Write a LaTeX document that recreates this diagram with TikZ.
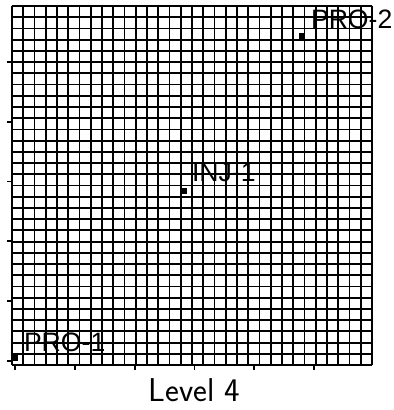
\documentclass[tikz,border=0pt]{standalone}
\usepackage{fontspec}
\usepackage{tikz}
\usetikzlibrary{positioning}
\newfontfamily\wellfont{Liberation Sans}

\begin{document}
\begin{tikzpicture}[x=0.5pt,y=-0.5pt,
  gridline/.style={line width=0.9pt,black},
  tickmark/.style={line width=0.9pt,black},
  well/.style={rectangle,fill=black,inner sep=0pt,minimum size=3.2pt},
  welltag/.style={inner sep=0pt,font=\wellfont\fontsize{13.3}{15}\selectfont}]
\useasboundingbox (0,0) rectangle (394,410);
% level 4 mesh, 32 x 32 cells
\foreach \i in {0,...,32}{
  \draw[gridline] ({12+\i*11.25},6) -- ({12+\i*11.25},365);
  \draw[gridline] (12,{6+\i*11.22}) -- (372,{6+\i*11.22});
}
% axis ticks
\foreach \k in {0,...,5}{
  \draw[tickmark] ({15+\k*59.8},365) -- ++(0,5);
  \draw[tickmark] (12,{361-\k*59.8}) -- ++(-5,0);
}
% wells
\node[well] (pro1) at (15,358) {};
\node[well] (inj1) at (184,191) {};
\node[well] (pro2) at (302,36) {};
\node[welltag,above right=1pt and 2.5pt of pro1] (pro1tag) {PRO-1};
\node[welltag,above right=2.5pt and 2pt of inj1] (inj1tag) {INJ-1};
\node[welltag,above right=1.5pt and 2.5pt of pro2] (pro2tag) {PRO-2};
\node[font=\sffamily\fontsize{16.5}{19}\selectfont] (caption) at (194.5,390) {Level 4};
\end{tikzpicture}
\end{document}
